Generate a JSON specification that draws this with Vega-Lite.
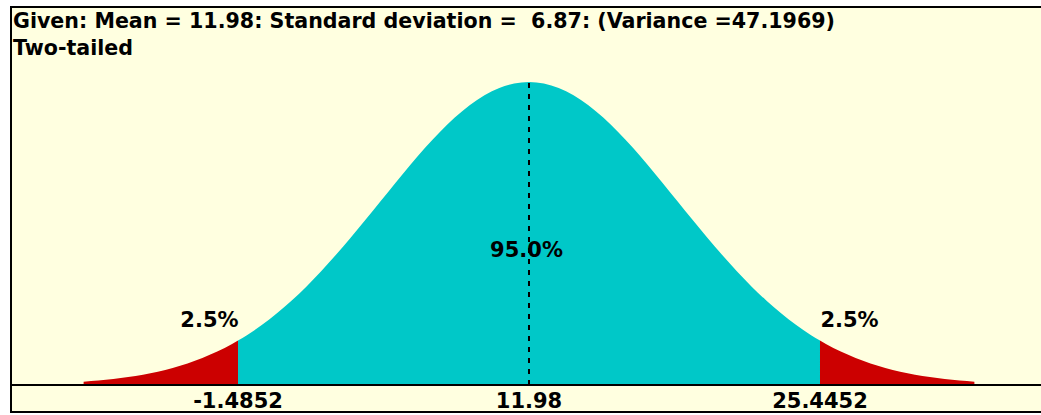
{
  "$schema": "https://vega.github.io/schema/vega-lite/v6.json",
  "width": 1032,
  "height": 405,
  "autosize": {"type": "none"},
  "padding": {"left": 11, "top": 7, "right": 0, "bottom": 3},
  "background": "#FFFFFF",
  "config": {
    "view": {"stroke": "#000000", "strokeWidth": 2, "fill": "#FFFFE0"},
    "font": "DejaVu Sans"
  },
  "datasets": {
    "curve": [
      {"x": -8.63, "d": 0.01111, "region": "left"},
      {"x": -7.943, "d": 0.01492, "region": "left"},
      {"x": -7.256, "d": 0.01984, "region": "left"},
      {"x": -6.569, "d": 0.02612, "region": "left"},
      {"x": -5.882, "d": 0.03405, "region": "left"},
      {"x": -5.195, "d": 0.04394, "region": "left"},
      {"x": -4.508, "d": 0.05613, "region": "left"},
      {"x": -3.821, "d": 0.07101, "region": "left"},
      {"x": -3.134, "d": 0.08892, "region": "left"},
      {"x": -2.447, "d": 0.11025, "region": "left"},
      {"x": -1.76, "d": 0.13534, "region": "left"},
      {"x": -1.4852, "d": 0.14653, "region": "left"},
      {"x": -1.4852, "d": 0.14653, "region": "center"},
      {"x": -1.073, "d": 0.16448, "region": "center"},
      {"x": -0.386, "d": 0.19790, "region": "center"},
      {"x": 0.301, "d": 0.23575, "region": "center"},
      {"x": 0.988, "d": 0.27804, "region": "center"},
      {"x": 1.675, "d": 0.32465, "region": "center"},
      {"x": 2.362, "d": 0.37531, "region": "center"},
      {"x": 3.049, "d": 0.42956, "region": "center"},
      {"x": 3.736, "d": 0.48675, "region": "center"},
      {"x": 4.423, "d": 0.54607, "region": "center"},
      {"x": 5.11, "d": 0.60653, "region": "center"},
      {"x": 5.797, "d": 0.66698, "region": "center"},
      {"x": 6.484, "d": 0.72615, "region": "center"},
      {"x": 7.171, "d": 0.78270, "region": "center"},
      {"x": 7.858, "d": 0.83527, "region": "center"},
      {"x": 8.545, "d": 0.88250, "region": "center"},
      {"x": 9.232, "d": 0.92312, "region": "center"},
      {"x": 9.919, "d": 0.95600, "region": "center"},
      {"x": 10.606, "d": 0.98020, "region": "center"},
      {"x": 11.293, "d": 0.99501, "region": "center"},
      {"x": 11.98, "d": 1.0, "region": "center"},
      {"x": 12.667, "d": 0.99501, "region": "center"},
      {"x": 13.354, "d": 0.98020, "region": "center"},
      {"x": 14.041, "d": 0.95600, "region": "center"},
      {"x": 14.728, "d": 0.92312, "region": "center"},
      {"x": 15.415, "d": 0.88250, "region": "center"},
      {"x": 16.102, "d": 0.83527, "region": "center"},
      {"x": 16.789, "d": 0.78270, "region": "center"},
      {"x": 17.476, "d": 0.72615, "region": "center"},
      {"x": 18.163, "d": 0.66698, "region": "center"},
      {"x": 18.85, "d": 0.60653, "region": "center"},
      {"x": 19.537, "d": 0.54607, "region": "center"},
      {"x": 20.224, "d": 0.48675, "region": "center"},
      {"x": 20.911, "d": 0.42956, "region": "center"},
      {"x": 21.598, "d": 0.37531, "region": "center"},
      {"x": 22.285, "d": 0.32465, "region": "center"},
      {"x": 22.972, "d": 0.27804, "region": "center"},
      {"x": 23.659, "d": 0.23575, "region": "center"},
      {"x": 24.346, "d": 0.19790, "region": "center"},
      {"x": 25.033, "d": 0.16448, "region": "center"},
      {"x": 25.4452, "d": 0.14653, "region": "center"},
      {"x": 25.4452, "d": 0.14653, "region": "right"},
      {"x": 25.72, "d": 0.13534, "region": "right"},
      {"x": 26.407, "d": 0.11025, "region": "right"},
      {"x": 27.094, "d": 0.08892, "region": "right"},
      {"x": 27.781, "d": 0.07101, "region": "right"},
      {"x": 28.468, "d": 0.05613, "region": "right"},
      {"x": 29.155, "d": 0.04394, "region": "right"},
      {"x": 29.842, "d": 0.03405, "region": "right"},
      {"x": 30.529, "d": 0.02612, "region": "right"},
      {"x": 31.216, "d": 0.01984, "region": "right"},
      {"x": 31.903, "d": 0.01492, "region": "right"},
      {"x": 32.59, "d": 0.01111, "region": "right"}
    ],
    "pct": [
      {"x": -2.805, "y": 0.1914, "label": "2.5%"},
      {"x": 11.864, "y": 0.4224, "label": "95.0%"},
      {"x": 26.811, "y": 0.1914, "label": "2.5%"}
    ],
    "ticks": [
      {"x": -1.4852, "label": "-1.4852"},
      {"x": 11.98, "label": "11.98"},
      {"x": 25.4452, "label": "25.4452"}
    ],
    "heading": [
      {"x": -11.898, "y": 1.178, "label": "Given: Mean = 11.98: Standard deviation = \u00a06.87: (Variance =47.1969)"},
      {"x": -11.898, "y": 1.089, "label": "Two-tailed"}
    ],
    "mean": [{"x": 11.98, "d0": 0, "d1": 1.0}]
  },
  "layer": [
    {
      "data": {"name": "curve"},
      "mark": {"type": "area", "interpolate": "monotone"},
      "encoding": {
        "x": {"field": "x", "type": "quantitative", "scale": {"domain": [-11.99, 35.765], "nice": false, "zero": false}, "axis": null},
        "y": {"field": "d", "type": "quantitative", "stack": null, "scale": {"domain": [-0.0891, 1.2475], "nice": false, "zero": false}, "axis": null},
        "color": {"field": "region", "type": "nominal", "scale": {"domain": ["left", "center", "right"], "range": ["#CC0000", "#00C8C8", "#CC0000"]}, "legend": null}
      }
    },
    {
      "data": {"name": "mean"},
      "mark": {"type": "rule", "color": "#000000", "strokeWidth": 2, "strokeDash": [5, 6]},
      "encoding": {
        "x": {"field": "x", "type": "quantitative"},
        "y": {"field": "d0", "type": "quantitative"},
        "y2": {"field": "d1"}
      }
    },
    {
      "data": {"values": [{"base": 0}]},
      "mark": {"type": "rule", "color": "#000000", "strokeWidth": 2},
      "encoding": {
        "y": {"field": "base", "type": "quantitative"}
      }
    },
    {
      "data": {"name": "pct"},
      "mark": {"type": "text", "fontSize": 21, "fontWeight": "bold", "color": "#000000", "align": "center", "baseline": "alphabetic"},
      "encoding": {
        "x": {"field": "x", "type": "quantitative"},
        "y": {"field": "y", "type": "quantitative"},
        "text": {"field": "label"}
      }
    },
    {
      "data": {"name": "ticks"},
      "mark": {"type": "text", "fontSize": 21, "fontWeight": "bold", "color": "#000000", "align": "center", "baseline": "alphabetic"},
      "encoding": {
        "x": {"field": "x", "type": "quantitative"},
        "y": {"datum": -0.0759, "type": "quantitative"},
        "text": {"field": "label"}
      }
    },
    {
      "data": {"name": "heading"},
      "mark": {"type": "text", "fontSize": 20.6, "fontWeight": "bold", "color": "#000000", "align": "left", "baseline": "alphabetic"},
      "encoding": {
        "x": {"field": "x", "type": "quantitative"},
        "y": {"field": "y", "type": "quantitative"},
        "text": {"field": "label"}
      }
    }
  ]
}
